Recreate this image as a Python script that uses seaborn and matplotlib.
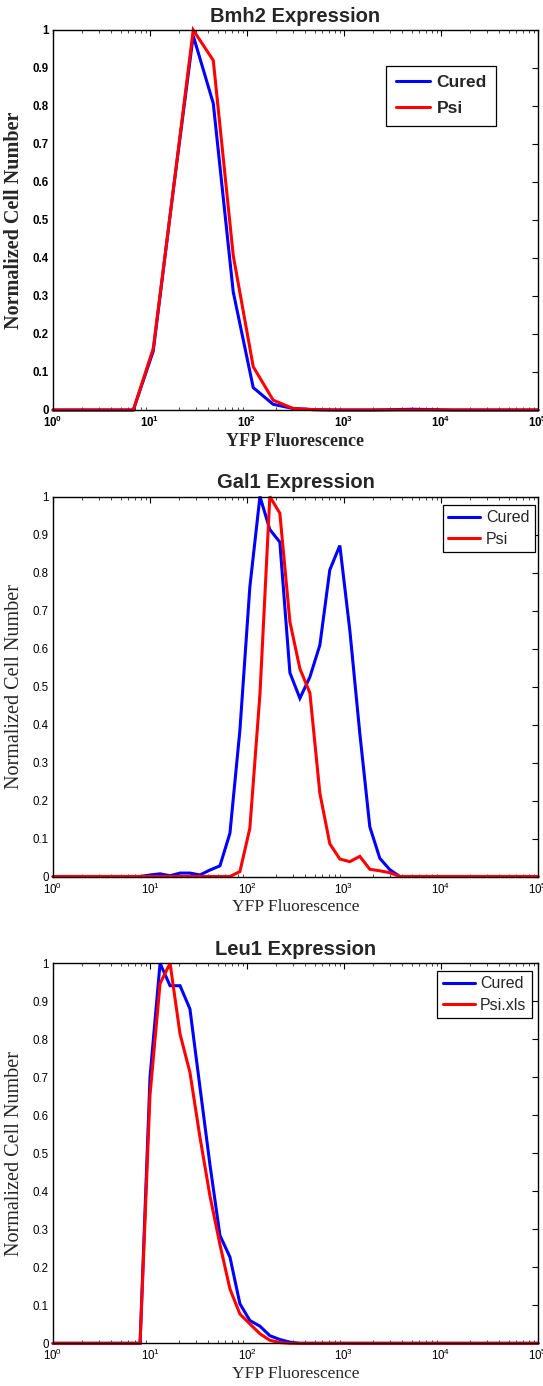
import matplotlib
matplotlib.use("Agg")
import matplotlib.pyplot as plt
import numpy as np
import pandas as pd
import seaborn as sns
from matplotlib.ticker import LogLocator, NullFormatter

# ---------------- data ----------------
titles = ["Bmh2 Expression", "Gal1 Expression", "Leu1 Expression"]
series_labels = [["Cured", "Psi"], ["Cured", "Psi"], ["Cured", "Psi.xls"]]

top_x = [1, 4.19, 6.73, 10.8, 17.4, 27.9, 44.9, 72.1, 115.9, 186, 299, 481,
         773, 1242, 1995, 3200, 5150, 8280, 13300, 100000]
top_cured = [0, 0, 0, 0.155, 0.58, 0.985, 0.807, 0.311, 0.059, 0.015, 0.004,
             0.001, 0, 0, 0, 0.001, 0.002, 0.001, 0, 0]
top_psi = [0, 0, 0, 0.162, 0.58, 1.0, 0.92, 0.407, 0.114, 0.026, 0.004,
           0.001, 0, 0, 0, 0, 0, 0, 0, 0]

mid_x = [1, 7.9, 10, 12.7, 16.1, 20.4, 25.8, 32.7, 41.5, 52.6, 66.7, 84.5,
         107, 136, 172, 218, 277, 351, 445, 564, 714, 906, 1148, 1455, 1845,
         2339, 2965, 3758, 100000]
mid_cured = [0, 0, 0.004, 0.007, 0.002, 0.009, 0.009, 0.004, 0.017, 0.028,
             0.114, 0.385, 0.762, 1.0, 0.913, 0.88, 0.536, 0.469, 0.525,
             0.609, 0.807, 0.871, 0.648, 0.377, 0.131, 0.048, 0.018, 0, 0]
mid_psi = [0, 0, 0, 0, 0, 0, 0, 0, 0, 0, 0, 0.013, 0.127, 0.48, 1.0, 0.956,
           0.67, 0.547, 0.483, 0.219, 0.086, 0.046, 0.039, 0.053, 0.019,
           0.015, 0.01, 0, 0]

bot_x = [1, 7.9, 10, 12.7, 16.1, 20.4, 25.8, 32.7, 41.5, 52.6, 66.7, 84.5,
         107, 136, 172, 218, 277, 351, 100000]
bot_cured = [0, 0, 0.70, 1.0, 0.941, 0.941, 0.88, 0.675, 0.47, 0.284, 0.227,
             0.104, 0.06, 0.045, 0.02, 0.01, 0.003, 0, 0]
bot_psi = [0, 0, 0.653, 0.947, 1.0, 0.814, 0.713, 0.543, 0.388, 0.26, 0.143,
           0.077, 0.051, 0.025, 0.008, 0.002, 0, 0, 0]

x_ticks = [1, 10, 100, 1000, 10000, 100000]
x_ticklabels = [r"$10^{0}$", r"$10^{1}$", r"$10^{2}$", r"$10^{3}$", r"$10^{4}$", r"$10^{5}$"]
x_ticklabels_bold = [r"$\mathbf{10^{0}}$", r"$\mathbf{10^{1}}$", r"$\mathbf{10^{2}}$",
                     r"$\mathbf{10^{3}}$", r"$\mathbf{10^{4}}$", r"$\mathbf{10^{5}}$"]
y_ticks = [0, 0.1, 0.2, 0.3, 0.4, 0.5, 0.6, 0.7, 0.8, 0.9, 1.0]
y_ticklabels = ["0", "0.1", "0.2", "0.3", "0.4", "0.5", "0.6", "0.7", "0.8", "0.9", "1"]

panels = [(top_x, top_cured, top_psi), (mid_x, mid_cured, mid_psi), (bot_x, bot_cured, bot_psi)]

# ---------------- style ----------------
sns.set_style("white")
plt.rcParams.update({
    "font.family": ["Liberation Sans", "DejaVu Sans"],
    "mathtext.fontset": "custom",
    "mathtext.rm": "Liberation Sans",
    "mathtext.bf": "Liberation Sans:bold",
    "mathtext.it": "Liberation Sans:italic",
    "axes.edgecolor": "black",
    "axes.linewidth": 1.0,
})

fig = plt.figure(figsize=(5.43, 13.86), dpi=100)
W, H = 543.0, 1386.0
ax_left, ax_right = 53, 538
ax_tops = [30, 496.5, 963.3]
ax_h = 380

legend_anchor = [("upper left", (0.687, 0.906)),
                 ("upper right", (0.994, 0.978)),
                 ("upper right", (0.988, 0.98))]

for i, (xs, cured, psi) in enumerate(panels):
    bold = (i == 0)
    top = ax_tops[i]
    ax = fig.add_axes([ax_left / W, 1 - (top + ax_h) / H, (ax_right - ax_left) / W, ax_h / H])
    lab1, lab2 = series_labels[i]
    n = len(xs)
    df = pd.DataFrame({"x": list(xs) * 2,
                       "y": list(cured) + list(psi),
                       "series": [lab1] * n + [lab2] * n})
    sns.lineplot(data=df, x="x", y="y", hue="series", palette=["#0000ff", "#ff0000"],
                 estimator=None, sort=False, linewidth=2.2, ax=ax, legend=False)
    for ln in ax.lines:
        ln.set_clip_on(False)
        ln.set_solid_joinstyle("miter")
    ax.set_xscale("log")
    ax.set_xlim(1, 1e5)
    ax.set_ylim(0, 1)

    ax.set_xticks(x_ticks)
    ax.set_xticklabels(x_ticklabels_bold if bold else x_ticklabels)
    ax.xaxis.set_minor_locator(LogLocator(base=10, subs=[2, 3, 4, 5, 6, 7, 8, 9], numticks=20))
    ax.xaxis.set_minor_formatter(NullFormatter())
    ax.set_yticks(y_ticks)
    ax.set_yticklabels(y_ticklabels)

    ax.tick_params(axis="both", which="major", direction="in", length=4, width=0.8,
                   top=True, right=True, labelsize=8.3, colors="black")
    ax.tick_params(axis="x", which="major", pad=3.5)
    ax.tick_params(axis="y", which="major", pad=3)
    ax.tick_params(axis="x", which="minor", direction="in", length=2, width=0.6,
                   top=True, bottom=True)
    for lbl in ax.get_yticklabels():
        lbl.set_fontweight("bold" if bold else "normal")

    for sp in ax.spines.values():
        sp.set_visible(True)
        sp.set_color("black")

    ax.set_title(titles[i], fontsize=14.5, fontweight="bold", pad=6,
                 family=["Liberation Sans", "DejaVu Sans"])
    ax.set_xlabel("YFP Fluorescence", fontsize=13 if bold else 12.5,
                  fontweight="bold" if bold else "normal",
                  family=["Liberation Serif", "DejaVu Serif"], labelpad=2)
    ax.set_ylabel("Normalized Cell Number", fontsize=14.5,
                  fontweight="bold" if bold else "normal",
                  family=["Liberation Serif", "DejaVu Serif"])
    ax.yaxis.set_label_coords(-0.06, 0.5)

    loc, anchor = legend_anchor[i]
    leg = ax.legend(ax.lines[:2], [lab1, lab2], loc=loc, bbox_to_anchor=anchor,
                    borderaxespad=0, fancybox=False, framealpha=1, edgecolor="black",
                    handlelength=2.0, handletextpad=0.35,
                    labelspacing=0.6 if bold else 0.4,
                    borderpad=0.55 if bold else 0.35,
                    prop={"family": ["Liberation Sans", "DejaVu Sans"],
                          "size": 12.5 if bold else 11.5,
                          "weight": "bold" if bold else "normal"})
    leg.get_frame().set_linewidth(0.9)

fig.savefig("out.png", dpi=100)
